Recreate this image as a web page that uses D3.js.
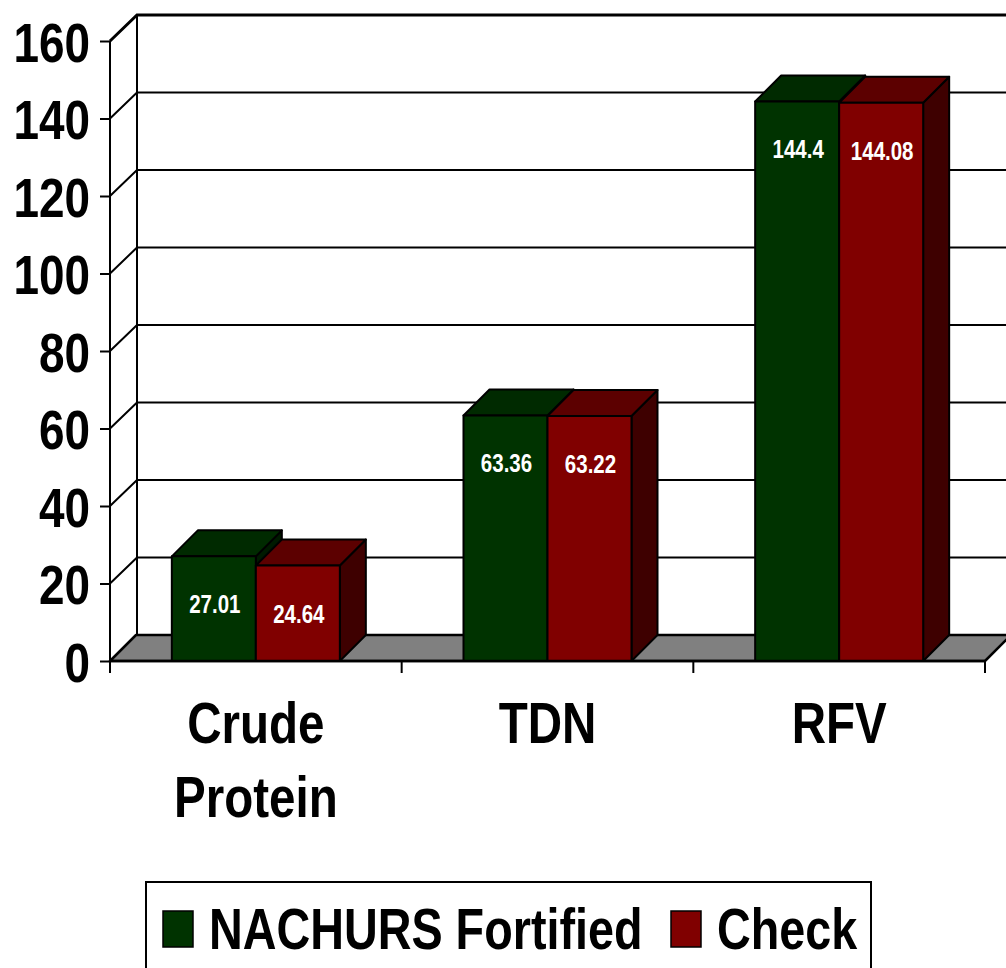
<!DOCTYPE html>
<html>
<head>
<meta charset="utf-8">
<script src="https://cdn.jsdelivr.net/npm/d3@7"></script>
<style>
  body { margin: 0; background: #fff; }
  text { font-family: "Liberation Sans", Arial, sans-serif; font-weight: bold; }
</style>
</head>
<body>
<div id="chart"></div>
<script>
// data
var categories = ["Crude Protein", "TDN", "RFV"];
var seriesNames = ["NACHURS Fortified", "Check"];
var fortified = [27.01, 63.36, 144.4];
var check = [24.64, 63.22, 144.08];
var yTicks = [0, 20, 40, 60, 80, 100, 120, 140, 160];

var svgWidth = 1006;
var svgHeight = 968;

// front plane of the plot and the 3d depth offset
var x0 = 110, x1 = 985;
var yTop = 41, yBottom = 661;
var depth = 26;
// the original font is a narrow bold face, squeeze the glyphs
var narrow = 0.82;

var colors = {
  front: ["#003300", "#800000"],
  top: ["#002a00", "#5c0000"],
  side: ["#001a00", "#3e0000"]
};

var svg = d3.select("#chart")
  .append("svg")
  .attr("width", svgWidth)
  .attr("height", svgHeight);

function narrowText(sel, x, y) {
  return sel.attr("transform", `translate(${x}, ${y}) scale(${narrow}, 1)`);
}

var xScale = d3.scaleBand()
  .domain(categories)
  .range([x0, x1])
  .paddingInner(0)
  .paddingOuter(0);

var xInner = d3.scaleBand()
  .domain(seriesNames)
  .range([0, xScale.bandwidth()])
  .paddingOuter(0.736);

var yScale = d3.scaleLinear()
  .domain([0, 160])
  .range([yBottom, yTop]);

var line = d3.line();

// back wall gridlines + left side wall diagonals
var grid = svg.append("g");
yTicks.forEach(function(t) {
  var y = yScale(t);
  if (t > 0) {
    grid.append("path")
      .attr("d", line([[x0, y], [x0 + depth + 1, y - depth], [svgWidth + 10, y - depth]]))
      .attr("fill", "none")
      .attr("stroke", "#000")
      .attr("stroke-width", t === 160 ? 3 : 2);
  }
});
grid.append("line")
  .attr("x1", x0 + depth + 1).attr("x2", x0 + depth + 1)
  .attr("y1", yScale(160) - depth).attr("y2", yScale(0) - depth)
  .attr("stroke", "#000").attr("stroke-width", 2);

// floor
svg.append("path")
  .attr("d", line([[x0, yBottom], [x1, yBottom], [x1 + depth, yBottom - depth], [x0 + depth, yBottom - depth]]) + "Z")
  .attr("fill", "#808080")
  .attr("stroke", "#000")
  .attr("stroke-width", 2.5)
  .attr("stroke-linejoin", "round");

// bars
var bars = svg.append("g");
categories.forEach(function(cat, i) {
  [fortified[i], check[i]].forEach(function(v, s) {
    var bx = xScale(cat) + xInner(seriesNames[s]);
    var bw = xInner.bandwidth();
    var by = yScale(v);
    var b0 = yScale(0);
    var g = bars.append("g")
      .attr("stroke", "#000")
      .attr("stroke-width", 2)
      .attr("stroke-linejoin", "round");
    // side
    g.append("path")
      .attr("d", line([[bx + bw, by], [bx + bw + depth, by - depth], [bx + bw + depth, b0 - depth], [bx + bw, b0]]) + "Z")
      .attr("fill", colors.side[s]);
    // top
    g.append("path")
      .attr("d", line([[bx, by], [bx + depth, by - depth], [bx + bw + depth, by - depth], [bx + bw, by]]) + "Z")
      .attr("fill", colors.top[s]);
    // front
    g.append("rect")
      .attr("x", bx).attr("y", by)
      .attr("width", bw).attr("height", b0 - by)
      .attr("fill", colors.front[s]);
  });
});

// value labels
categories.forEach(function(cat, i) {
  [fortified[i], check[i]].forEach(function(v, s) {
    var t = svg.append("text")
      .attr("text-anchor", "middle")
      .attr("fill", "#fff")
      .attr("font-size", "25px")
      .text(v);
    narrowText(t, xScale(cat) + xInner(seriesNames[s]) + xInner.bandwidth() / 2 + 1, yScale(v) + 57);
  });
});

// front y axis
var yAxis = d3.axisLeft(yScale)
  .tickValues(yTicks)
  .tickSize(10)
  .tickPadding(10);
var yAxisG = svg.append("g")
  .attr("transform", `translate(${x0}, 0)`)
  .call(yAxis);
yAxisG.select(".domain")
  .attr("d", `M0,${yTop}V${yBottom + 12}`)
  .attr("stroke-width", 2);
yAxisG.selectAll(".tick line").attr("stroke-width", 2);
yAxisG.selectAll(".tick text")
  .attr("x", 0)
  .attr("font-size", "56px")
  .attr("font-family", null)
  .attr("dy", "0.36em")
  .attr("fill", "#000")
  .attr("transform", `translate(-20, 0) scale(${narrow}, 1)`);

// front x axis line + ticks at category boundaries
svg.append("line")
  .attr("x1", x0).attr("x2", x1)
  .attr("y1", yBottom).attr("y2", yBottom)
  .attr("stroke", "#000").attr("stroke-width", 2.5);
categories.concat(["end"]).forEach(function(cat, i) {
  var x = i < categories.length ? xScale(cat) : x1;
  svg.append("line")
    .attr("x1", x).attr("x2", x)
    .attr("y1", yBottom).attr("y2", yBottom + 12)
    .attr("stroke", "#000").attr("stroke-width", 2);
});

// category labels
categories.forEach(function(cat) {
  cat.split(" ").forEach(function(w, j) {
    var t = svg.append("text")
      .attr("text-anchor", "middle")
      .attr("font-size", "58px")
      .attr("fill", "#000")
      .text(w);
    narrowText(t, xScale(cat) + xScale.bandwidth() / 2, 743 + j * 74);
  });
});

// legend
var legend = svg.append("g");
legend.append("rect")
  .attr("x", 146).attr("y", 882)
  .attr("width", 725).attr("height", 100)
  .attr("fill", "#fff")
  .attr("stroke", "#000")
  .attr("stroke-width", 2);
var legendX = [163, 671];
seriesNames.forEach(function(name, s) {
  legend.append("rect")
    .attr("x", legendX[s]).attr("y", 911)
    .attr("width", 30).attr("height", 36)
    .attr("fill", colors.front[s])
    .attr("stroke", "#000")
    .attr("stroke-width", 1.5);
  var t = legend.append("text")
    .attr("font-size", "57px")
    .attr("fill", "#000")
    .text(name);
  narrowText(t, legendX[s] + 46, 949);
});
</script>
</body>
</html>
